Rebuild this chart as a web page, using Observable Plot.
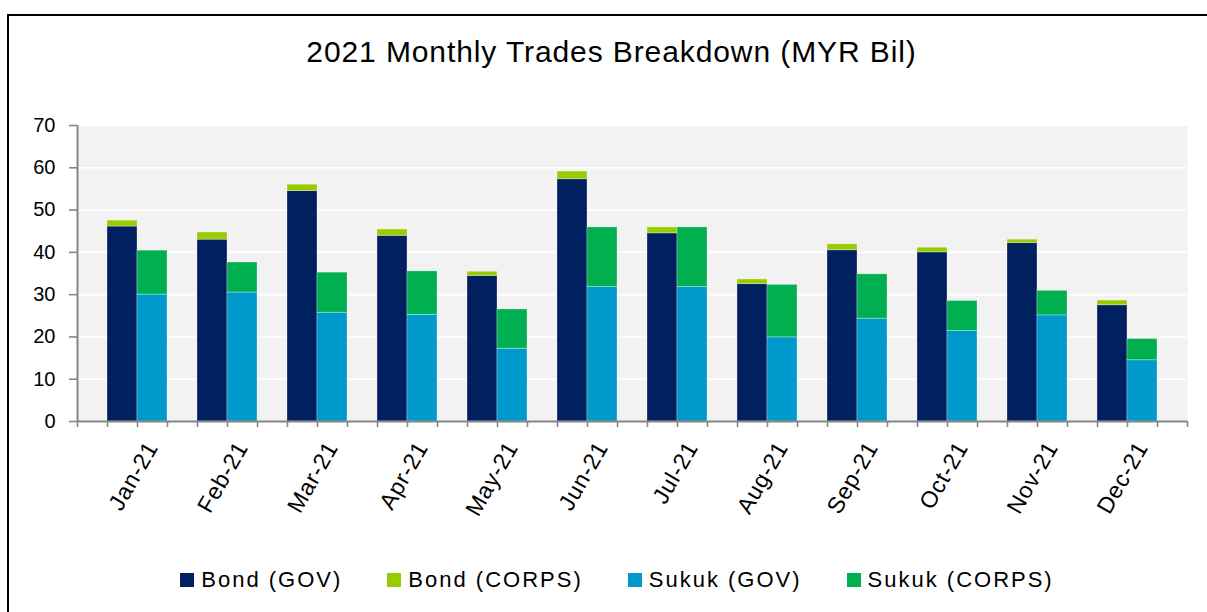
<!DOCTYPE html>
<html>
<head>
<meta charset="utf-8">
<script src="https://cdn.jsdelivr.net/npm/d3@7"></script>
<script src="https://cdn.jsdelivr.net/npm/@observablehq/plot@0.6"></script>
<style>
  html, body { margin: 0; padding: 0; background: #fff; width: 1207px; height: 612px; overflow: hidden;
    font-family: "Liberation Sans", Arial, sans-serif; }
  #box { position: absolute; left: 7px; top: 14px; width: 1300px; height: 700px; border: 2px solid #000; box-sizing: border-box; }
  #title { position: absolute; left: 0; width: 1223px; top: 37px; text-align: center; font-size: 30px; line-height: 30px;
    letter-spacing: 0.9px; color: #000; white-space: nowrap; }
  #chart { position: absolute; left: 0; top: 100px; }
  #legend { position: absolute; left: 0; width: 1234px; top: 569px; display: flex; justify-content: center; gap: 45px; }
  .item { display: flex; align-items: center; font-size: 22px; line-height: 22px; letter-spacing: 2px; color: #000; white-space: nowrap; }
  .sw { width: 14px; height: 14px; margin-right: 7px; }
  #chart svg g[aria-label="x-axis tick label"] text { letter-spacing: 0.8px; }
</style>
</head>
<body>
<div id="box"></div>
<div id="title">2021 Monthly Trades Breakdown (MYR Bil)</div>
<div id="chart"></div>
<div id="legend"></div>
<script>
// ---- data ----
const months = ["Jan-21","Feb-21","Mar-21","Apr-21","May-21","Jun-21","Jul-21","Aug-21","Sep-21","Oct-21","Nov-21","Dec-21"];
const bondGov    = [46.1, 43.0, 54.5, 43.9, 34.4, 57.3, 44.5, 32.5, 40.5, 40.0, 42.2, 27.5];
const bondCorps  = [1.4, 1.7, 1.5, 1.5, 1.0, 1.8, 1.4, 1.1, 1.4, 1.1, 0.8, 1.1];
const sukukGov   = [30.0, 30.5, 25.7, 25.2, 17.2, 31.8, 31.8, 19.9, 24.3, 21.4, 25.1, 14.5];
const sukukCorps = [10.4, 7.1, 9.5, 10.3, 9.3, 14.1, 14.1, 12.4, 10.5, 7.1, 5.8, 5.0];
const seriesNames  = ["Bond (GOV)", "Bond (CORPS)", "Sukuk (GOV)", "Sukuk (CORPS)"];
const seriesColors = ["#002060", "#99cc00", "#0099cc", "#00b050"];
const yTicks = [0, 10, 20, 30, 40, 50, 60, 70];

// ---- table: each month has a Bond column, a Sukuk column, then a gap slot ----
const rows = [];
months.forEach((m, i) => {
  const bondSlot = 3 * i + 1, sukukSlot = 3 * i + 2;
  rows.push({month: m, series: seriesNames[0], x1: bondSlot, x2: bondSlot + 1, y1: 0, y2: bondGov[i]});
  rows.push({month: m, series: seriesNames[1], x1: bondSlot, x2: bondSlot + 1, y1: bondGov[i], y2: bondGov[i] + bondCorps[i]});
  rows.push({month: m, series: seriesNames[2], x1: sukukSlot, x2: sukukSlot + 1, y1: 0, y2: sukukGov[i]});
  rows.push({month: m, series: seriesNames[3], x1: sukukSlot, x2: sukukSlot + 1, y1: sukukGov[i], y2: sukukGov[i] + sukukCorps[i]});
});
const nSlots = months.length * 3 + 1;
const labelPos = months.map((_, i) => 3 * i + 2);

const axisGray = "#868686";

const chart = Plot.plot({
  width: 1207,
  height: 431,
  marginLeft: 77,
  marginRight: 20,
  marginTop: 25,
  marginBottom: 110,
  style: {fontFamily: "'Liberation Sans', Arial, sans-serif", fontSize: "20px", color: "#000", background: "transparent", overflow: "visible"},
  x: {type: "linear", domain: [0, nSlots]},
  y: {domain: [0, 70]},
  color: {domain: seriesNames, range: seriesColors},
  marks: [
    Plot.frame({fill: "#f2f2f2", stroke: null}),
    Plot.gridY({ticks: yTicks, stroke: "#fff", strokeOpacity: 1, strokeWidth: 1.6}),
    Plot.rect(rows, {x1: "x1", x2: "x2", y1: "y1", y2: "y2", fill: "series", stroke: "#fff", strokeOpacity: 0.3, strokeWidth: 1}),
    Plot.ruleX([0], {stroke: axisGray, strokeWidth: 2}),
    Plot.ruleY([0], {stroke: axisGray, strokeWidth: 2}),
    Plot.axisY({ticks: yTicks, tickSize: 8, tickPadding: 14, fontSize: 20, stroke: axisGray, strokeWidth: 1.6, fill: "#000"}),
    Plot.axisX({ticks: d3.range(0, nSlots + 1), tickSize: 6, tickFormat: () => "", stroke: axisGray, strokeWidth: 1.6}),
    Plot.axisX({ticks: labelPos, tickSize: 0, tickPadding: 22, tickRotate: -60, fontSize: 23, dx: 15, fill: "#000",
      tickFormat: d => months[labelPos.indexOf(d)]})
  ]
});
document.getElementById("chart").appendChild(chart);

// ---- legend ----
const legend = d3.select("#legend");
seriesNames.forEach((name, i) => {
  const item = legend.append("div").attr("class", "item");
  item.append("div").attr("class", "sw").style("background", seriesColors[i]);
  item.append("span").text(name);
});
</script>
</body>
</html>
